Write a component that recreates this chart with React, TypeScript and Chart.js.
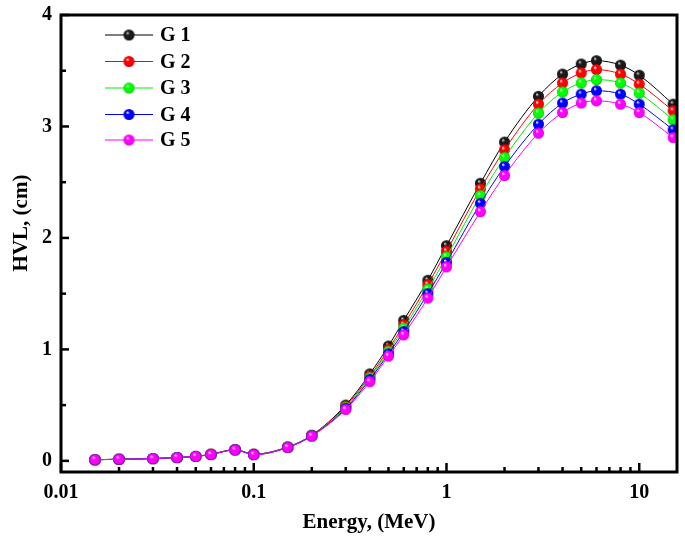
import React, { useEffect, useRef } from 'react';
import { Chart, registerables } from 'chart.js';

Chart.register(...registerables);

const ENERGY = [0.015, 0.02, 0.03, 0.04, 0.05, 0.06, 0.08, 0.1, 0.15, 0.2, 0.3, 0.4, 0.5, 0.6, 0.8, 1, 1.5, 2, 3, 4, 5, 6, 8, 10, 15];
const G1 = [0.01, 0.015, 0.02, 0.03, 0.04, 0.06, 0.10, 0.06, 0.125, 0.23, 0.50, 0.78, 1.03, 1.26, 1.62, 1.93, 2.49, 2.86, 3.27, 3.47, 3.56, 3.59, 3.55, 3.46, 3.20];
const G2 = [0.01, 0.015, 0.02, 0.03, 0.04, 0.06, 0.10, 0.06, 0.123, 0.228, 0.49, 0.76, 1.00, 1.22, 1.58, 1.88, 2.44, 2.79, 3.20, 3.39, 3.48, 3.51, 3.47, 3.38, 3.14];
const G3 = [0.01, 0.014, 0.02, 0.03, 0.04, 0.058, 0.10, 0.057, 0.122, 0.226, 0.48, 0.745, 0.98, 1.19, 1.54, 1.83, 2.38, 2.72, 3.12, 3.31, 3.39, 3.42, 3.39, 3.30, 3.06];
const G4 = [0.01, 0.014, 0.02, 0.03, 0.04, 0.057, 0.10, 0.056, 0.12, 0.224, 0.47, 0.73, 0.96, 1.16, 1.50, 1.78, 2.31, 2.64, 3.02, 3.21, 3.29, 3.32, 3.29, 3.20, 2.97];
const G5 = [0.01, 0.014, 0.02, 0.03, 0.04, 0.056, 0.098, 0.055, 0.12, 0.222, 0.46, 0.71, 0.94, 1.13, 1.46, 1.74, 2.235, 2.56, 2.94, 3.125, 3.21, 3.23, 3.20, 3.125, 2.90];

const SERIES_LABELS = ['G 1', 'G 2', 'G 3', 'G 4', 'G 5'];
const SERIES_VALUES = [G1, G2, G3, G4, G5];
const LINE_COLORS = ['#000000', '#ff0000', '#00ee00', '#0000ff', '#ff00ff'];
const BALL_COLORS = [
  ['#d8d8d8', '#1a1a1a', '#000000'],
  ['#ffffff', '#ff0000', '#c00000'],
  ['#ffffff', '#00ff00', '#00b000'],
  ['#ffffff', '#0000ff', '#0000b0'],
  ['#ffffff', '#ff00ff', '#c000c0'],
];

const X_TICKS = [0.01, 0.1, 1, 10];
const Y_TICKS = [0, 1, 2, 3, 4];
const X_TITLE = 'Energy, (MeV)';
const Y_TITLE = 'HVL, (cm)';

const FONT_FAMILY = '"Liberation Serif", "Times New Roman", serif';

function makeBall(light: string, mid: string, dark: string, r: number) {
  const size = Math.ceil(r * 2) + 2;
  const c = document.createElement('canvas');
  c.width = size;
  c.height = size;
  const ctx = c.getContext('2d')!;
  const cx = size / 2;
  const cy = size / 2;
  const g = ctx.createRadialGradient(cx - r * 0.3, cy - r * 0.4, r * 0.05, cx, cy, r);
  g.addColorStop(0, light);
  g.addColorStop(0.3, mid);
  g.addColorStop(0.8, mid);
  g.addColorStop(1, dark);
  ctx.fillStyle = g;
  ctx.beginPath();
  ctx.arc(cx, cy, r, 0, Math.PI * 2);
  ctx.fill();
  return c;
}

const decorPlugin = {
  id: 'decor',
  afterDatasetsDraw(chart: any) {
    const { ctx, chartArea } = chart;
    const xs = chart.scales.x;
    const ys = chart.scales.y;
    const { left, right, top, bottom } = chartArea;
    ctx.save();
    ctx.strokeStyle = '#000';
    ctx.lineCap = 'butt';

    // y ticks (inward)
    ctx.lineWidth = 2.5;
    for (let v = 0; v <= 4.0001; v += 0.5) {
      const y = ys.getPixelForValue(v);
      const major = Math.abs(v - Math.round(v)) < 1e-6;
      ctx.beginPath();
      ctx.moveTo(left, y);
      ctx.lineTo(left + (major ? 8 : 5), y);
      ctx.stroke();
    }
    // x ticks (inward)
    for (let d = 0.01; d < 20; d *= 10) {
      for (let m = 1; m <= 9; m++) {
        const v = d * m;
        if (v > xs.max) break;
        const x = xs.getPixelForValue(v);
        ctx.beginPath();
        ctx.moveTo(x, bottom);
        ctx.lineTo(x, bottom - (m === 1 ? 9 : 5));
        ctx.stroke();
      }
    }
    // frame
    ctx.lineWidth = 3;
    ctx.strokeRect(left, top, right - left, bottom - top);

    // legend
    const rows = [35, 61.5, 88, 114.5, 140];
    chart.data.datasets.forEach((ds: any, i: number) => {
      const y = rows[i];
      ctx.strokeStyle = ds.borderColor;
      ctx.lineWidth = 1;
      ctx.beginPath();
      ctx.moveTo(105, y);
      ctx.lineTo(153, y);
      ctx.stroke();
      const img = ds.pointStyle;
      ctx.drawImage(img, 129 - img.width / 2, y - img.height / 2);
      ctx.fillStyle = '#000';
      ctx.font = `bold 20px ${FONT_FAMILY}`;
      ctx.textAlign = 'left';
      ctx.textBaseline = 'middle';
      ctx.fillText(ds.label, 160, y + 1);
    });

    // axis titles
    ctx.fillStyle = '#000';
    ctx.font = `bold 21px ${FONT_FAMILY}`;
    ctx.textAlign = 'center';
    ctx.textBaseline = 'middle';
    ctx.fillText(X_TITLE, (left + right) / 2, 523);
    ctx.save();
    ctx.translate(22, 223);
    ctx.rotate(-Math.PI / 2);
    ctx.fillText(Y_TITLE, 0, 0);
    ctx.restore();

    ctx.restore();
  },
};

export default function App() {
  const ref = useRef<HTMLCanvasElement>(null);
  useEffect(() => {
    const canvas = ref.current!;
    const datasets = SERIES_LABELS.map((label, i) => ({
      label,
      data: ENERGY.map((e, k) => ({ x: e, y: SERIES_VALUES[i][k] })),
      borderColor: LINE_COLORS[i],
      backgroundColor: LINE_COLORS[i],
      borderWidth: 1,
      pointStyle: makeBall(BALL_COLORS[i][0], BALL_COLORS[i][1], BALL_COLORS[i][2], 5.5),
      pointRadius: 6,
      cubicInterpolationMode: 'monotone' as const,
      order: 4 - i,
    }));
    const chart = new Chart(canvas, {
      type: 'line',
      data: { datasets },
      plugins: [decorPlugin],
      options: {
        animation: false,
        responsive: false,
        devicePixelRatio: 1,
        layout: { padding: { left: 0, top: 15, right: 8, bottom: 0 } },
        plugins: { legend: { display: false }, tooltip: { enabled: false } },
        scales: {
          x: {
            type: 'logarithmic',
            min: 0.01,
            max: 15.7,
            grid: { display: false, drawTicks: false },
            border: { display: false },
            afterBuildTicks: (s: any) => { s.ticks = X_TICKS.map((v) => ({ value: v })); },
            afterFit: (s: any) => { s.height = 71; s.paddingLeft = 0; s.paddingRight = 0; },
            ticks: {
              autoSkip: false,
              maxRotation: 0,
              padding: 9,
              color: '#000',
              font: { family: FONT_FAMILY, size: 20, weight: 'bold' },
              callback: (v: any) => String(v),
            },
          },
          y: {
            type: 'linear',
            min: -0.1,
            max: 4,
            grid: { display: false, drawTicks: false },
            border: { display: false },
            afterBuildTicks: (s: any) => { s.ticks = Y_TICKS.map((v) => ({ value: v })); },
            afterFit: (s: any) => { s.width = 61; s.paddingTop = 0; s.paddingBottom = 0; },
            ticks: {
              padding: 9,
              color: '#000',
              font: { family: FONT_FAMILY, size: 20, weight: 'bold' },
              callback: (v: any) => String(v),
            },
          },
        },
      },
    } as any);
    return () => chart.destroy();
  }, []);
  return (
    <div style={{ position: 'fixed', left: 0, top: 0, width: 685, height: 543, background: '#fff' }}>
      <canvas ref={ref} width={685} height={543} />
    </div>
  );
}
